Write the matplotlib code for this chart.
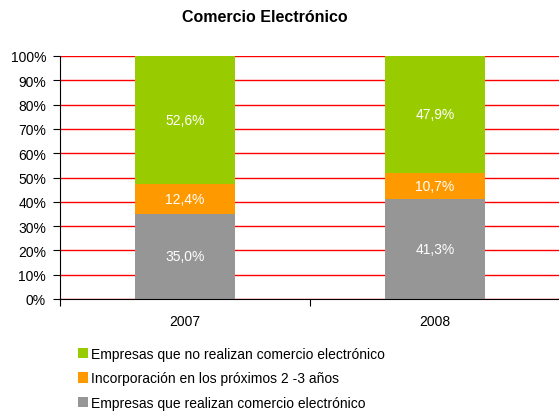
import matplotlib
matplotlib.use("Agg")
import matplotlib.pyplot as plt
from matplotlib.ticker import FixedLocator, PercentFormatter
from matplotlib.patches import Patch

plt.rcParams['font.family'] = ['Liberation Sans', 'DejaVu Sans']

years = ["2007", "2008"]
realizan = [35.0, 41.3]
proximos = [12.4, 10.7]
no_realizan = [52.6, 47.9]

series = [
    ("Empresas que realizan comercio electrónico", realizan, "#969696"),
    ("Incorporación en los próximos 2 -3 años", proximos, "#FF9900"),
    ("Empresas que no realizan comercio electrónico", no_realizan, "#99CC00"),
]

fig = plt.figure(figsize=(5.59, 4.14), dpi=100)
ax = fig.add_axes([60 / 559, 1 - 300 / 414, 500 / 559, 243 / 414])

x = list(range(len(years)))
bottom = [0.0] * len(years)
for name, vals, color in series:
    ax.bar(x, vals, width=0.4, bottom=bottom, color=color, zorder=3, label=name)
    for xi, b, v in zip(x, bottom, vals):
        ax.text(xi, b + v / 2, f"{v:.1f}%".replace(".", ","), ha="center", va="center",
                color="white", fontsize=10, zorder=4)
    bottom = [b + v for b, v in zip(bottom, vals)]

ax.set_xlim(-0.5, 1.5)
ax.set_ylim(0, 100)
ax.yaxis.set_major_locator(FixedLocator(range(0, 101, 10)))
ax.yaxis.set_major_formatter(PercentFormatter(decimals=0))
ax.grid(axis="y", color="#FF0000", linewidth=1.0, zorder=1)

ax.xaxis.set_major_locator(FixedLocator([-0.5, 0.5, 1.5]))
ax.xaxis.set_major_formatter(plt.NullFormatter())
ax.set_xticks(x, minor=True)
ax.set_xticklabels(years, minor=True)
ax.tick_params(axis="x", which="minor", length=0, pad=11, labelsize=10)
ax.tick_params(axis="x", which="major", length=5, direction="out", color="black")
ax.tick_params(axis="y", length=5, direction="out", labelsize=10, pad=5)

for s in ("top", "right"):
    ax.spines[s].set_visible(False)
ax.spines["left"].set_color("black")
ax.spines["bottom"].set_color("black")
ax.spines["left"].set_zorder(5)
ax.spines["bottom"].set_zorder(5)

fig.text(265 / 559, 1 - 17 / 414, "Comercio Electrónico", ha="center", va="center",
         fontsize=11.5, fontweight="bold")

handles = [Patch(facecolor=c, label=n) for n, _, c in reversed(series)]
fig.legend(handles=handles, loc="upper left", bbox_to_anchor=(72 / 559, 1 - 342 / 414),
           frameon=False, fontsize=10, handlelength=0.75, handleheight=0.75,
           handletextpad=0.25, labelspacing=0.78, borderaxespad=0)

fig.savefig("out.png", dpi=100)
